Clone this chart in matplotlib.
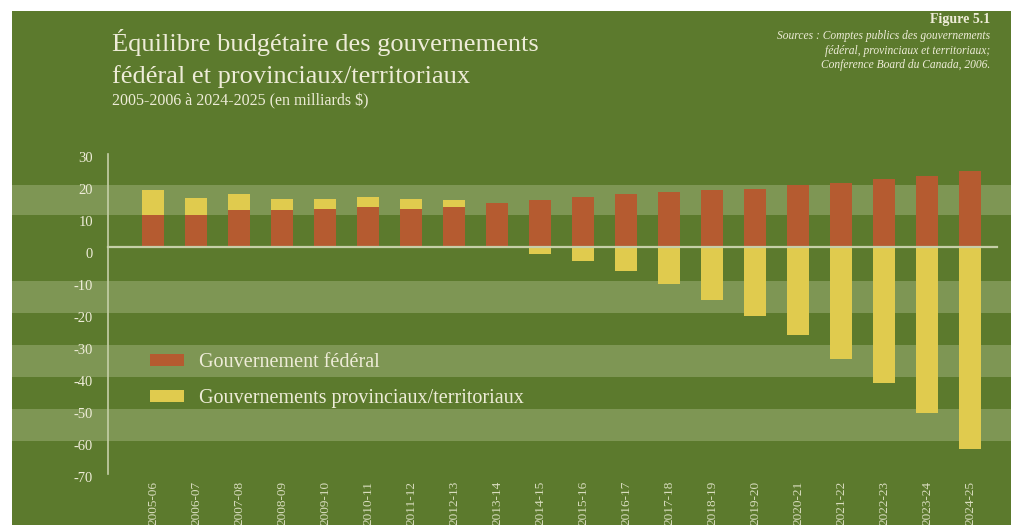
import numpy as np
import matplotlib.pyplot as plt
from matplotlib.transforms import offset_copy

plt.rcParams['font.family'] = ['Liberation Serif', 'DejaVu Serif']

# données (milliards $)
annees = ["2005-06", "2006-07", "2007-08", "2008-09", "2009-10", "2010-11",
          "2011-12", "2012-13", "2013-14", "2014-15", "2015-16", "2016-17",
          "2017-18", "2018-19", "2019-20", "2020-21", "2021-22", "2022-23",
          "2023-24", "2024-25"]
federal = [9.9, 9.9, 11.6, 11.7, 11.8, 12.6, 11.9, 12.6, 13.8, 14.8,
           15.6, 16.5, 17.1, 17.8, 18.1, 19.5, 20.0, 21.2, 22.1, 23.7]
provincial = [7.8, 5.4, 5.1, 3.4, 3.3, 3.0, 3.1, 2.1, 0.0, -2.1,
              -4.5, -7.5, -11.7, -16.7, -21.7, -27.6, -35.0, -42.6, -52.0, -63.1]
graduations = [30, 20, 10, 0, -10, -20, -30, -40, -50, -60, -70]

# couleurs
vert = "#5c7a2d"
vert_clair = "#7e9654"
brun = "#b55b30"
jaune = "#e0cb4e"
creme = "#eeecd8"
ligne = "#c6cfa8"

W, H = 1011, 525
L, T = 12, 11          # marge blanche gauche / haut
x0, dx = 153, 43       # centre de la 1re barre, pas entre barres (px)
y0, dy = 247, 3.2      # ligne du zéro, px par milliard

fig = plt.figure(figsize=(W / 100, H / 100), dpi=100)
fig.patch.set_facecolor("white")
ax = fig.add_axes([L / W, 0, (W - L) / W, (H - T) / H])
ax.set_facecolor(vert)
ax.set_xlim((L - x0) / dx, (W - x0) / dx)
ax.set_ylim((y0 - H) / dy, (y0 - T) / dy)
for s in ax.spines.values():
    s.set_visible(False)
ax.set_xticks([])
ax.set_yticks([])

# bandes claires
for lo, hi in [(10, 19.5), (-20.5, -10.5), (-40.5, -30.5), (-60.5, -50.5)]:
    ax.axhspan(lo, hi, color=vert_clair, lw=0, zorder=1)

x = np.arange(len(annees))
fed = np.array(federal)
prov = np.array(provincial)
ax.bar(x, fed, width=0.51, color=brun, zorder=3, label="Gouvernement fédéral")
ax.bar(x, prov, bottom=np.where(prov > 0, fed, 0), width=0.51, color=jaune,
       zorder=3, label="Gouvernements provinciaux/territoriaux")

xa = (108 - x0) / dx
ax.plot([xa, (997 - x0) / dx], [0, 0], color=ligne, lw=1.6, zorder=4)
ax.plot([xa, xa], [-71, 29], color=ligne, lw=1.2, zorder=4)

# étiquettes de l'axe vertical
tr = offset_copy(ax.transData, fig=fig, x=0, y=-8, units="dots")
for v in graduations:
    ax.text((93 - x0) / dx, v, str(v), ha="right", va="center", color=creme,
            fontsize=10.5, transform=tr)

# étiquettes des années
for i, a in enumerate(annees):
    ax.text(i, (y0 - 481) / dy, a, rotation=90, ha="center", va="top",
            color="#d9ddbf", fontsize=9.5, clip_on=False)

# titres
fig.text(112 / W, 1 - 42 / H, "Équilibre budgétaire des gouvernements",
         color=creme, fontsize=19, va="center")
fig.text(112 / W, 1 - 77 / H, "fédéral et provinciaux/territoriaux",
         color=creme, fontsize=19, va="center")
fig.text(112 / W, 1 - 101 / H, "2005-2006 à 2024-2025 (en milliards $)",
         color=creme, fontsize=11.5, va="center")
fig.text(990 / W, 1 - 20 / H, "Figure 5.1", color=creme, fontsize=10,
         fontweight="bold", ha="right", va="center")
fig.text(990 / W, 1 - 30 / H, "Sources : Comptes publics des gouvernements\n"
         "fédéral, provinciaux et territoriaux;\n"
         "Conference Board du Canada, 2006.", color=creme, fontsize=8.3,
         style="italic", ha="right", va="top", linespacing=1.3)

ax.legend(loc="upper left", bbox_to_anchor=(140 / W, 1 - 343 / H),
          bbox_transform=fig.transFigure, frameon=False, fontsize=14.5,
          labelcolor=creme, handlelength=1.7, handleheight=0.5,
          labelspacing=0.85, handletextpad=0.75, borderpad=0)

fig.savefig("out.png", dpi=100)
